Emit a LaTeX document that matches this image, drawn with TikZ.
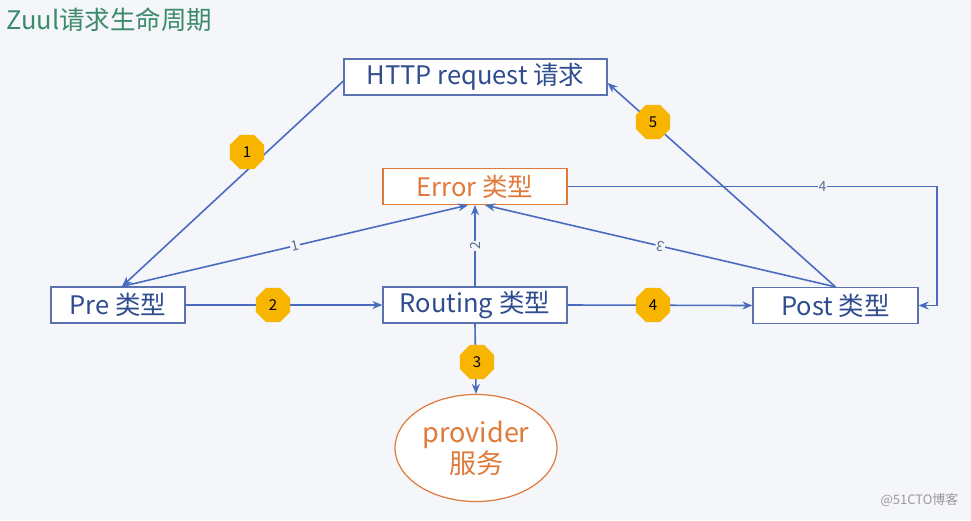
\documentclass[tikz,border=0pt]{standalone}
\usepackage{fontspec}
\setmainfont{Noto Sans CJK SC}
\usetikzlibrary{shapes.geometric,arrows.meta}
\definecolor{bg}{HTML}{F5F6F9}
\definecolor{lineblue}{HTML}{4A6CC0}
\definecolor{boxblue}{HTML}{5A72B0}
\definecolor{txtblue}{HTML}{2E4C8E}
\definecolor{org}{HTML}{E07A3A}
\definecolor{gold}{HTML}{F7B500}
\definecolor{titlegreen}{HTML}{3B8A6C}
\definecolor{lbl}{HTML}{5C6C94}
\begin{document}
\begin{tikzpicture}[x=1pt,y=-1pt,
 bluebox/.style={draw=boxblue, line width=1.2pt, fill=white, text=txtblue, font=\fontsize{25.5}{28}\selectfont, inner sep=0pt, minimum height=36pt},
 orgbox/.style={bluebox, draw=org, text=org},
 conn/.style={draw=lineblue, line width=1.6pt, -{Stealth[length=10pt,width=8pt]}},
 badge/.style={regular polygon, regular polygon sides=8, fill=gold, draw=none, minimum size=37pt, inner sep=0pt, font=\fontsize{15}{17}\selectfont, text=black},
 elabel/.style={fill=bg, inner sep=1pt, text=lbl, font=\fontsize{14}{16}\selectfont}
]
\fill[bg] (0,0) rectangle (971,520);
\useasboundingbox (0,0) rectangle (971,520);

\node[anchor=west, text=titlegreen, font=\fontsize{25.5}{28}\selectfont] (title) at (3,20) {Zuul请求生命周期};
\node[bluebox, minimum width=263pt] (http) at (475.5,77) {HTTP request 请求};
\node[orgbox, minimum width=184pt] (err) at (475,186.5) {Error 类型};
\node[bluebox, minimum width=134pt] (pre) at (118,305) {Pre 类型};
\node[bluebox, minimum width=184pt] (rout) at (475,305) {Routing 类型};
\node[bluebox, minimum width=165pt] (post) at (835.5,305.5) {Post 类型};
\node[ellipse, draw=org, line width=1.2pt, fill=white, minimum width=162pt, minimum height=107pt, text=org, font=\fontsize{27}{31}\selectfont, align=center, inner sep=0pt] (prov) at (476,448) {provider\\服务};
\coordinate (loop) at (937,186.5);

\draw[conn] ([yshift=-4pt]http.west) -- ([xshift=4pt]pre.north);
\draw[conn] (post.north) -- ([yshift=-6pt]http.east);
\draw[conn] ([xshift=4pt]pre.north) -- node[elabel, sloped]{1} ([xshift=-7pt]err.south);
\draw[conn] (rout.north) -- node[elabel, sloped, allow upside down]{2} (err.south);
\draw[conn] (post.north) -- node[elabel, sloped, allow upside down]{3} ([xshift=10pt]err.south);
\draw[conn] (err.east) -- node[elabel, pos=0.69]{4} (loop) |- (post.east);
\draw[conn] (pre.east) -- (rout.west);
\draw[conn] (rout.east) -- (post.west);
\draw[conn] (rout.south) -- (prov.north);

\node[badge] (b1) at (247,152) {1};
\node[badge] (b2) at (273,305) {2};
\node[badge] (b3) at (477,362) {3};
\node[badge] (b4) at (653,305) {4};
\node[badge] (b5) at (653,122) {5};

\node[anchor=east, text=black!40, font=\fontsize{13}{15}\selectfont] (wm) at (962,500) {@51CTO博客};
\end{tikzpicture}
\end{document}
